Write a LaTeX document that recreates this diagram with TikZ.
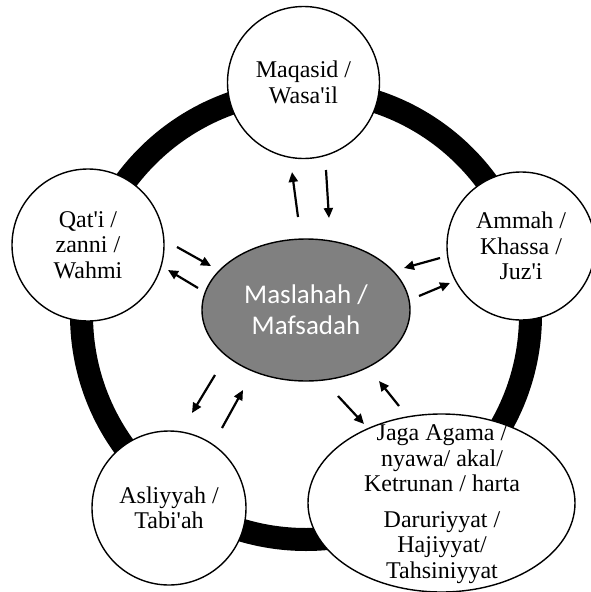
\documentclass[tikz,border=0pt]{standalone}
\usepackage{fontspec}
\setmainfont{Liberation Serif}
\newfontfamily\calibrifont{Carlito}
\usetikzlibrary{shapes.geometric,arrows.meta}
\definecolor{abu}{RGB}{128,128,128}

\begin{document}
\begin{tikzpicture}[x=1pt,y=-1pt,
    kor/.style={circle,draw,line width=1.4pt,fill=white,minimum size=152pt,
      inner sep=0pt,align=center,font=\fontsize{24}{25.5}\selectfont},
    nyil/.style={line width=2.2pt,-{Triangle[length=10pt,width=9pt]}}]
        \useasboundingbox (0,0) rectangle (591,592);
        % the thick black ring behind the circles
        \coordinate (O) at (306,315);
        \draw[line width=23pt] (O) circle[radius=224.5];
        % the five outer circles
        \node[kor] (maqasid) at (303.5,82.5) {Maqasid /\\Wasa\textquotesingle il};
        \node[kor] (qati) at (88,245) {Qat\textquotesingle i /\\zanni /\\Wahmi};
        \node[kor,minimum size=148pt] (ammah) at (521,246) {Ammah /\\Khassa /\\Juz\textquotesingle i};
        \node[kor,minimum size=154pt] (asliyyah) at (169,508) {Asliyyah /\\Tabi\textquotesingle ah};
        \node[ellipse,draw,line width=1.4pt,fill=white,minimum width=267pt,
          minimum height=178pt] (jaga) at (441.5,503) {};
        \node[align=center,font=\fontsize{24}{25.5}\selectfont] (jagatext) at (442,504)
          {Jaga Agama /\\nyawa/ akal/\\Ketrunan / harta\\[10pt]Daruriyyat /\\Hajiyyat/\\Tahsiniyyat};
        % the grey ellipse in the middle
        \node[ellipse,draw,line width=1.4pt,fill=abu,minimum width=208pt,minimum height=142pt,
          text=white,align=center,font=\calibrifont\fontsize{27}{31}\selectfont]
          (maslahah) at (306,310) {Maslahah /\\Mafsadah};
        % arrows to and from Maqasid
        \coordinate (m1) at (298,217); \coordinate (m2) at (292,172);
        \coordinate (m3) at (326,170); \coordinate (m4) at (329,218);
        \draw[nyil] (m1) -- (m2);
        \draw[nyil] (m3) -- (m4);
        % arrows to and from Qat'i
        \coordinate (q1) at (177,247); \coordinate (q2) at (211,266);
        \coordinate (q3) at (198,288); \coordinate (q4) at (168,270);
        \draw[nyil] (q1) -- (q2);
        \draw[nyil] (q3) -- (q4);
        % arrows to and from Ammah
        \coordinate (a1) at (440,258); \coordinate (a2) at (404,268);
        \coordinate (a3) at (419,296); \coordinate (a4) at (450,283);
        \draw[nyil] (a1) -- (a2);
        \draw[nyil] (a3) -- (a4);
        % arrows to and from Asliyyah
        \coordinate (s1) at (215,375); \coordinate (s2) at (192,413);
        \coordinate (s3) at (222,428); \coordinate (s4) at (243,390);
        \draw[nyil] (s1) -- (s2);
        \draw[nyil] (s3) -- (s4);
        % arrows to and from Jaga Agama
        \coordinate (j1) at (338,396); \coordinate (j2) at (364,424);
        \coordinate (j3) at (399,406); \coordinate (j4) at (379,381);
        \draw[nyil] (j1) -- (j2);
        \draw[nyil] (j3) -- (j4);
    \end{tikzpicture}
\end{document}
